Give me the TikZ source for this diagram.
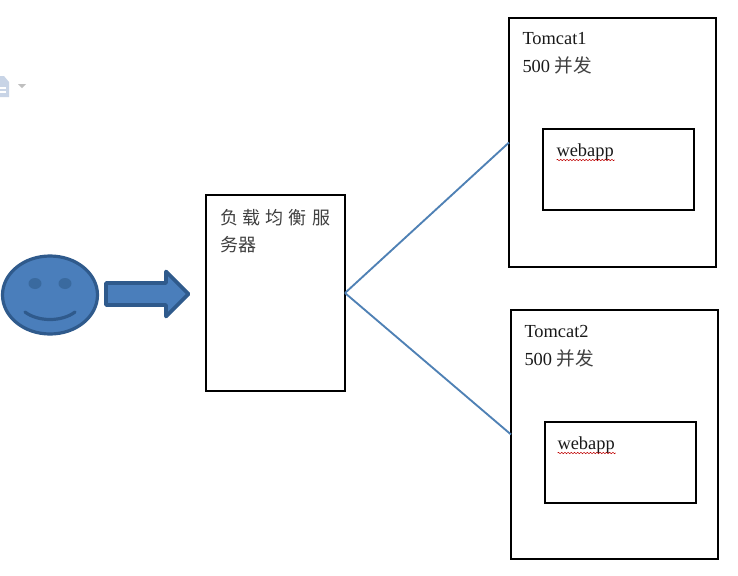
\documentclass[tikz,border=0pt]{standalone}
\usepackage{fontspec}
\setmainfont{Liberation Serif}
\newfontfamily\cjk{Noto Sans CJK SC}
\usetikzlibrary{decorations.pathmorphing,shapes.geometric}
\definecolor{shapefill}{HTML}{4A7EBB}
\definecolor{shapeline}{HTML}{2F5A8C}
\definecolor{eyefill}{HTML}{3A6A9F}
\definecolor{linkline}{HTML}{4F81B5}
\definecolor{iconfill}{HTML}{C8D4E6}
\tikzset{
  box/.style={draw=black,line width=1.6pt,fill=white,minimum width=#1,inner sep=0pt,outer sep=0pt},
  label/.style={anchor=base west,inner sep=0pt,outer sep=0pt,font=\fontsize{13.8pt}{15pt}\selectfont,text=black!90},
  cjklabel/.style={anchor=base west,inner sep=0pt,outer sep=0pt,font=\fontsize{13.5pt}{15pt}\selectfont\cjk,text=black!75},
  link/.style={draw=linkline,line width=1.4pt},
  smiley/.style={draw=shapeline,line width=2.4pt,fill=shapefill},
  squiggle/.style={draw=red!75!black,line width=0.4pt,decorate,decoration={snake,amplitude=0.5pt,segment length=2.4pt}}
}
\begin{document}
\begin{tikzpicture}[x=0.75pt,y=-0.75pt]
\useasboundingbox (0,0) rectangle (738,575);
\fill[white] (0,0) rectangle (738,575);
% faint icon fragment at the left edge
\fill[iconfill] (0,76) -- (4,76) -- (9,82) -- (9,97) -- (0,97) -- cycle;
\fill[white] (0,87) rectangle (6,89);
\fill[white] (0,91) rectangle (6,93);
\fill[gray!50] (18,84) -- (26,84) -- (22,88) -- cycle;
% boxes
\node[box=139pt*0.75,minimum height=196pt*0.75] (lb) at (275.5,293) {};
\node[box=207pt*0.75,minimum height=249pt*0.75] (tomcatA) at (612.5,142.5) {};
\node[box=151pt*0.75,minimum height=81pt*0.75] (webappA) at (618.5,169.5) {};
\node[box=207pt*0.75,minimum height=249pt*0.75] (tomcatB) at (614.5,434.5) {};
\node[box=151pt*0.75,minimum height=81pt*0.75] (webappB) at (620.5,462.5) {};
% connectors
\draw[link] (lb.east) -- (tomcatA.west);
\draw[link] (lb.east) -- (tomcatB.west);
% smiley
\node[smiley,ellipse,minimum width=95pt*0.75,minimum height=78pt*0.75,inner sep=0pt] (face) at (50,295) {};
\fill[eyefill] (35,283.5) ellipse [x radius=6.5,y radius=5.5];
\fill[eyefill] (65,283.5) ellipse [x radius=6.5,y radius=5.5];
\draw[shapeline,line width=2.4pt,line cap=round] (25,312) .. controls (38,322) and (62,322) .. (75,312);
% block arrow
\draw[smiley,line join=round,line width=2.8pt] (106,283) -- (166,283) -- (166,271.5) -- (188.5,294) -- (166,316.5) -- (166,305) -- (106,305) -- cycle;
% texts
\node[cjklabel] (lbA) at (220,224) {负\hspace{3.75pt}载\hspace{3.75pt}均\hspace{3.75pt}衡\hspace{3.75pt}服};
\node[cjklabel] (lbB) at (220,251) {务器};
\node[label] (tA) at (522.5,44) {Tomcat1};
\node[label] (cA) at (522.5,72) {500 {\cjk\fontsize{14pt}{15pt}\selectfont\color{black!75}并发}};
\node[label] (wA) at (556.5,156) {webapp};
\node[label] (tB) at (524.5,337) {Tomcat2};
\node[label] (cB) at (524.5,365) {500 {\cjk\fontsize{14pt}{15pt}\selectfont\color{black!75}并发}};
\node[label] (wB) at (557.5,449) {webapp};
\draw[squiggle] (wA.base west)++(0,4) -- ++(58,0);
\draw[squiggle] (wB.base west)++(0,4) -- ++(58,0);
\end{tikzpicture}
\end{document}
